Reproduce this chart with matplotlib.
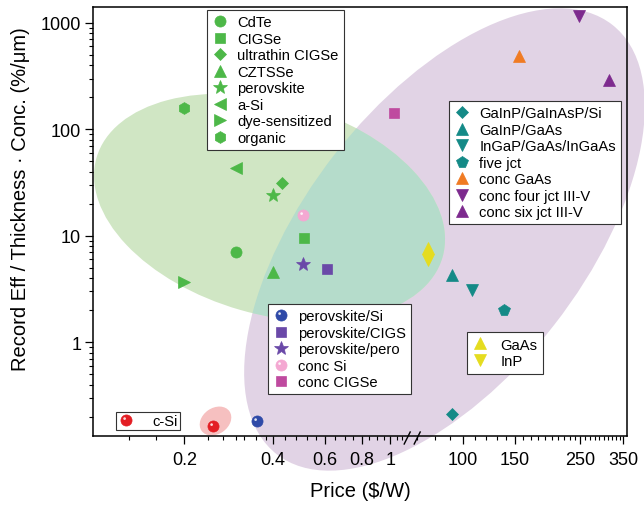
import numpy as np
import matplotlib
matplotlib.use('Agg')
import matplotlib.pyplot as plt
from matplotlib.patches import Ellipse
from matplotlib.legend import Legend
from matplotlib.path import Path

plt.rcParams['font.family'] = ['Liberation Sans', 'DejaVu Sans']

# single junction thin film cells
thin_labels = ['CdTe', 'CIGSe', 'ultrathin CIGSe', 'CZTSSe', 'perovskite', 'a-Si', 'dye-sensitized', 'organic']
thin_price = [0.30, 0.51, 0.43, 0.40, 0.40, 0.30, 0.20, 0.20]
thin_ratio = [7.1, 9.6, 31.6, 4.6, 24.0, 43.6, 3.7, 159.0]

# tandems and concentrated thin film
tandem_labels = ['perovskite/Si', 'perovskite/CIGS', 'perovskite/pero', 'conc Si', 'conc CIGSe']
tandem_price = [0.354, 0.61, 0.507, 0.507, 1.03]
tandem_ratio = [0.182, 4.83, 5.38, 15.8, 143.0]

# III-V multijunction
iiiv_labels = ['GaInP/GaInAsP/Si', 'GaInP/GaAs', 'InGaP/GaAs/InGaAs', 'five jct',
               'conc GaAs', 'conc four jct III-V', 'conc six jct III-V']
iiiv_price = [92, 92, 107, 138, 155, 248, 313]
iiiv_ratio = [0.211, 4.25, 3.07, 2.0, 490.0, 1160.0, 288.0]

# III-V single junction
single_labels = ['GaAs', 'InP']
single_price = [76, 76]
single_ratio = [7.6, 5.9]

csi_labels = ['c-Si']
csi_price = [0.251]
csi_ratio = [0.163]

# styles
thin_markers = ['o', 's', 'D', '^', '*', '<', '>', 'h']
thin_sizes = [8, 7, 6.5, 9, 10.5, 9, 9, 8.5]
GREEN = '#4db848'
tandem_markers = ['o', 's', '*', 'o', 's']
tandem_sizes = [8, 7, 10.5, 8, 7]
tandem_colors = ['#2f4aa8', '#6a49a8', '#6a49a8', '#f4a8d2', '#bf4a9f']
tandem_shiny = [True, False, False, True, False]
iiiv_markers = ['D', '^', 'v', 'p', '^', 'v', '^']
iiiv_sizes = [6.5, 9, 9, 8.5, 9, 9, 9]
iiiv_colors = ['#148a87', '#148a87', '#148a87', '#148a87', '#f07b23', '#7d2a8e', '#7d2a8e']
single_markers = ['^', 'v']
YELLOW = '#e5dc1f'
RED = '#e31e24'

# broken x axis: log scale with the range between LEFT_END and RIGHT_START cut out
LEFT_END = 1.187
RIGHT_START = 67.2
GAP = np.log10(RIGHT_START) - np.log10(LEFT_END)


def fwd(x):
    x = np.clip(np.asarray(x, dtype=float), 1e-9, None)
    lx = np.log10(x)
    a, b = np.log10(LEFT_END), np.log10(RIGHT_START)
    return np.where(lx <= a, lx, np.where(lx >= b, lx - GAP, a))


def inv(y):
    y = np.asarray(y, dtype=float)
    return np.where(y <= np.log10(LEFT_END), 10 ** y, 10 ** (y + GAP))


# white highlight for the "sphere" markers
_c = Path.circle((-0.17, 0.17), 0.12)
SHINE = Path(np.vstack([[[-0.5, -0.5], [0.5, 0.5]], _c.vertices]),
             np.concatenate([[Path.MOVETO, Path.MOVETO], _c.codes]))


def draw(ax, x, y, marker, color, size, label, shiny=False):
    h, = ax.plot([x], [y], ls='none', marker=marker, ms=size, color=color,
                 mec=color, mew=0.5, zorder=3, label=label)
    if shiny:
        s, = ax.plot([x], [y], ls='none', marker=SHINE, ms=size, color='white',
                     mec='none', alpha=0.85, zorder=4)
        return (h, s)
    return h


def add_legend(ax, handles, labels, anchor, **kw):
    opts = dict(loc='upper left', bbox_to_anchor=anchor, fontsize=10.6,
                fancybox=False, framealpha=1, edgecolor='#333333',
                borderaxespad=0, handlelength=1.0, handletextpad=0.7,
                borderpad=0.35, labelspacing=0.17, numpoints=1)
    opts.update(kw)
    leg = Legend(ax, handles, labels, **opts)
    leg.get_frame().set_linewidth(0.8)
    leg.set_zorder(6)
    ax.add_artist(leg)


def main():
    fig = plt.figure(figsize=(6.44, 5.06), dpi=100)
    ax = fig.add_axes([93 / 644, 1 - 437 / 506, 534 / 644, 429 / 506])
    ax.set_xscale('function', functions=(fwd, inv))
    ax.set_yscale('log')
    ax.set_xlim(0.098, 360)
    ax.set_ylim(0.1315, 1410)

    # shaded groups (figure inch coordinates)
    it = fig.dpi_scale_trans
    purple = Ellipse((4.445, 2.655), 5.45, 2.78, angle=52, transform=it,
                     facecolor='#e1d3e5', edgecolor='none', clip_on=False, zorder=0.1)
    ax.add_patch(purple)
    ax.add_patch(Ellipse((2.695, 2.975), 3.60, 2.13, angle=-16, transform=it,
                         facecolor='#d0e6c4', edgecolor='none', clip_on=False, zorder=0.2))
    overlap = Ellipse((2.695, 2.975), 3.60, 2.13, angle=-16, transform=it,
                      facecolor='#b5dccb', edgecolor='none', zorder=0.3)
    overlap.set_clip_path(purple)
    ax.add_patch(overlap)
    ax.add_patch(Ellipse((2.155, 0.84), 0.34, 0.26, angle=35, transform=it,
                         facecolor='#f6c0c0', edgecolor='none', clip_on=False, zorder=0.4))

    thin_h = [draw(ax, thin_price[i], thin_ratio[i], thin_markers[i], GREEN, thin_sizes[i], thin_labels[i])
              for i in range(len(thin_labels))]
    tandem_h = [draw(ax, tandem_price[i], tandem_ratio[i], tandem_markers[i], tandem_colors[i],
                     tandem_sizes[i], tandem_labels[i], tandem_shiny[i])
                for i in range(len(tandem_labels))]
    iiiv_h = [draw(ax, iiiv_price[i], iiiv_ratio[i], iiiv_markers[i], iiiv_colors[i], iiiv_sizes[i], iiiv_labels[i])
              for i in range(len(iiiv_labels))]
    single_h = [draw(ax, single_price[i], single_ratio[i], single_markers[i], YELLOW, 9, single_labels[i])
                for i in range(len(single_labels))]
    csi_h = [draw(ax, csi_price[0], csi_ratio[0], 'o', RED, 8, csi_labels[0], shiny=True)]

    def frac(px, py):
        return ((px - 93) / 534, (437 - py) / 429)

    add_legend(ax, thin_h, thin_labels, frac(207, 11))
    add_legend(ax, iiiv_h, iiiv_labels, frac(449, 102))
    add_legend(ax, tandem_h, tandem_labels, frac(268, 305))
    add_legend(ax, single_h, single_labels, frac(467, 333), borderpad=0.38, handletextpad=0.9)
    add_legend(ax, csi_h, csi_labels, frac(116, 413), handletextpad=1.3, borderpad=0.15)

    # ticks
    ax.set_xticks([0.2, 0.4, 0.6, 0.8, 1, 100, 150, 250, 350])
    ax.set_xticklabels(['0.2', '0.4', '0.6', '0.8', '1', '100', '150', '250', '350'])
    minor_left = [0.13, 0.16, 0.24, 0.27, 0.3, 0.32, 0.35, 0.38, 0.44, 0.48, 0.52, 0.56,
                  0.65, 0.7, 0.75, 0.85, 0.9, 0.95, 1.05, 1.1]
    minor_right = [v for v in range(70, 360, 10) if v not in (100, 150, 250, 350)]
    ax.set_xticks(minor_left + minor_right, minor=True)
    ax.set_yticks([1, 10, 100, 1000])
    ax.set_yticklabels(['1', '10', '100', '1000'])
    ax.yaxis.set_minor_locator(matplotlib.ticker.LogLocator(base=10, subs=np.arange(2, 10)))
    ax.yaxis.set_minor_formatter(matplotlib.ticker.NullFormatter())
    ax.tick_params(which='major', direction='out', length=5.5, width=0.9, labelsize=13, top=False, right=False)
    ax.tick_params(which='minor', direction='out', length=3, width=0.8, top=False, right=False)
    ax.tick_params(axis='x', which='major', pad=5)
    ax.tick_params(axis='y', which='major', pad=3)
    for sp in ax.spines.values():
        sp.set_linewidth(1.1)

    # break marks on the x axis
    xb = ax.transAxes.inverted().transform(ax.transData.transform((LEFT_END, 1)))[0]
    px, py = 1 / 534, 1 / 429
    for off in (-5, 5):
        ax.plot([xb + (off - 3) * px, xb + (off + 3) * px], [-8 * py, 4 * py],
                transform=ax.transAxes, color='black', lw=1.0, clip_on=False, zorder=5)

    ax.set_xlabel('Price ($/W)', fontsize=14.5)
    ax.set_ylabel('Record Eff / Thickness \u00b7 Conc. (%/\u03bcm)', fontsize=14.5)
    ax.xaxis.set_label_coords(0.5, -0.105)
    ax.yaxis.set_label_coords(-0.118, 0.555)

    fig.savefig('out.png', dpi=100)
    plt.close(fig)


if __name__ == "__main__":
    main()
